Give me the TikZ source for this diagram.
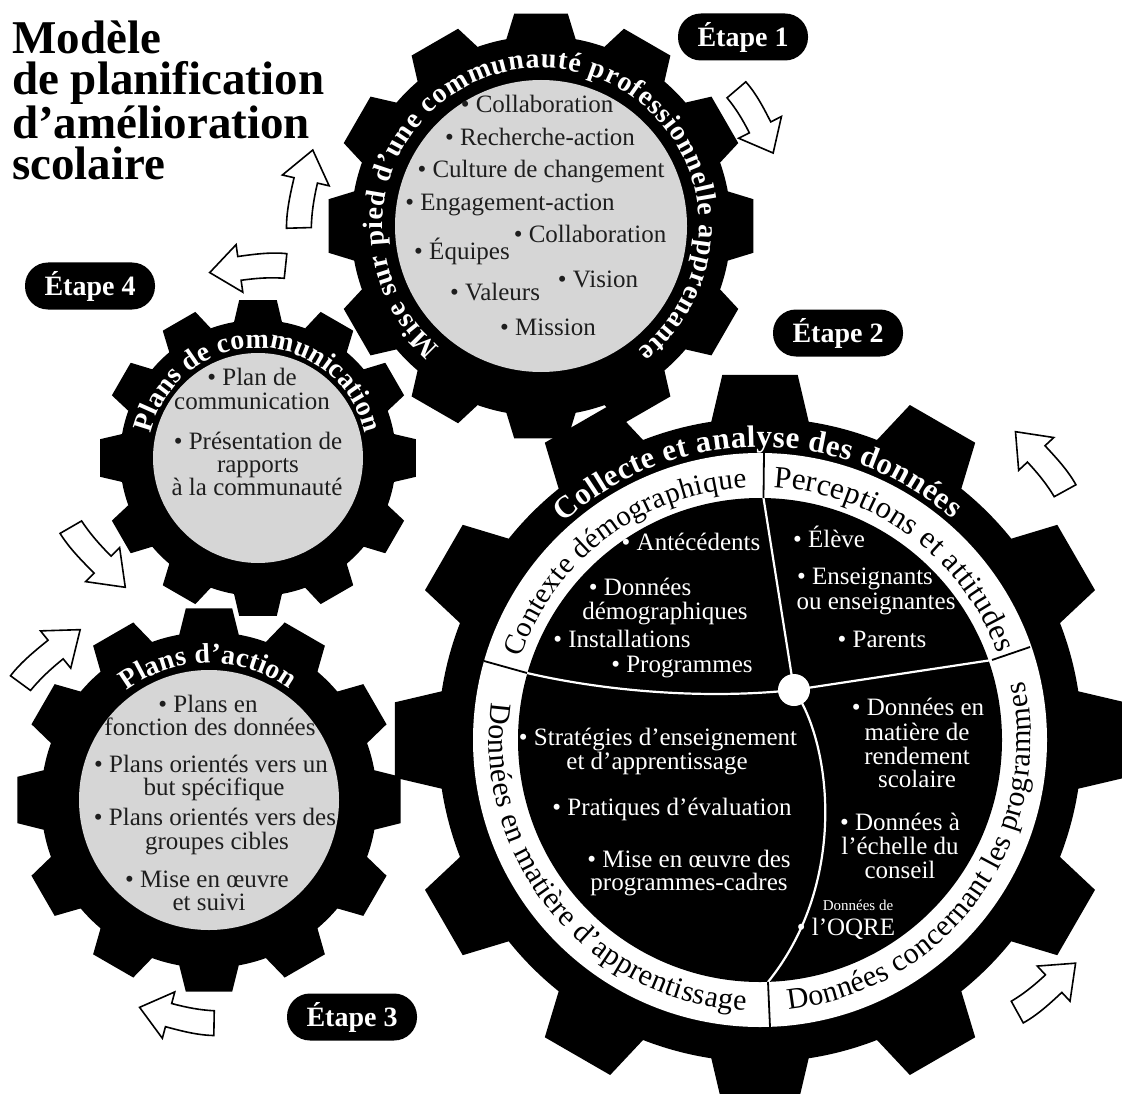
\documentclass[tikz,border=0pt]{standalone}
\usepackage{fontspec}
\setmainfont{Liberation Serif}
\usetikzlibrary{decorations.text}
\definecolor{lgray}{RGB}{214,214,214}
\definecolor{ink}{RGB}{30,30,30}

\newcommand\drawgear[6]{%
  \begin{scope}[shift={(#1,#2)}]
    \fill[black] ({90-#5}:#3)
      \foreach \k in {0,...,11}{
        -- ({90+30*\k-#6}:#4) -- ({90+30*\k+#6}:#4) -- ({90+30*\k+#5}:#3)
        arc[start angle={90+30*\k+#5}, end angle={120+30*\k-#5}, radius=#3]
      } -- cycle;
  \end{scope}}

\newcommand\arclabel[7]{%
  \path[decorate, decoration={text along path, text align={fit to path}, text color=#6, text={#7}}]
    (#1,#2) ++({#4}:#3) arc[start angle=#4, end angle=#5, radius=#3];}

\newcommand\barrow[5]{%
  \begin{scope}[shift={(#1,#2)}, rotate=#3, xscale=#4/76, yscale=#5]
    \draw[blockarrow] (3,-16) -- (-3,8) .. controls (13,12) and (30,12) .. (46,12)
      -- (46,24) -- (76,0) -- (46,-24) -- (46,-12)
      .. controls (30,-12) and (17,-13) .. (3,-16) -- cycle;
  \end{scope}}

\begin{document}
\begin{tikzpicture}[x=1pt,y=1pt,
  gtext/.style={text=ink, font=\fontsize{25}{25}\selectfont, inner sep=0pt, anchor=mid},
  wtext/.style={text=white, font=\fontsize{25}{25}\selectfont, inner sep=0pt, anchor=mid},
  etape/.style={fill=black, text=white, rounded corners=23pt, minimum width=130pt,
    minimum height=47pt, inner sep=0pt, font=\bfseries\fontsize{28}{28}\selectfont},
  blockarrow/.style={draw=black, fill=white, line width=1.6pt, line join=miter},
  title/.style={font=\bfseries\fontsize{47}{41}\selectfont, align=left, inner sep=0pt, anchor=north west}
]
\useasboundingbox (0,0) rectangle (1122,-1094);
\fill[white] (0,0) rectangle (1122,-1094);

% gear silhouettes
\drawgear{760}{-740}{322}{367}{8.7}{5.9}
\drawgear{541}{-226}{190}{214}{10.5}{7.2}
\drawgear{258}{-458}{138}{159}{10}{6.8}
\drawgear{209}{-800}{168}{193}{10.2}{6.9}

% interiors
\fill[lgray] (541,-226) circle[radius=146];
\fill[lgray] (258,-458) circle[radius=105];
\fill[lgray] (209,-800) circle[radius=130];
\fill[white] (760,-740) circle[radius=287];
\fill[black] (760,-740) circle[radius=242];

% dividers of the big gear
\coordinate (hub) at (794,-690);
\coordinate (dTi) at (763.5,-498); \coordinate (dTo) at (764,-453);
\coordinate (dRi) at (992,-660);   \coordinate (dRo) at (1030,-647);
\coordinate (dLi) at (527,-673);   \coordinate (dLo) at (484,-661);
\coordinate (dBi) at (768,-982);   \coordinate (dBo) at (770,-1027);
\draw[white, line width=2.2pt] (hub) -- (dTi);
\draw[white, line width=2.2pt] (hub) -- (dRi);
\draw[white, line width=2.2pt] (hub) .. controls (700,-700) and (600,-690) .. (dLi);
\draw[white, line width=2.2pt] (hub) .. controls (830,-740) and (850,-880) .. (dBi);
\draw[black, line width=1.8pt] (dTi) -- (dTo);
\draw[black, line width=1.8pt] (dRi) -- (dRo);
\draw[black, line width=1.8pt] (dLi) -- (dLo);
\draw[black, line width=1.8pt] (dBi) -- (dBo);
\fill[white] (hub) circle[radius=16];

% texts along the gears
\arclabel{541}{-226}{158}{230}{-52}{white}{|\bfseries\fontsize{28}{28}\selectfont|Mise sur pied d'une communauté professionnelle apprenante}
\arclabel{258}{-458}{110}{167}{13}{white}{|\bfseries\fontsize{28}{28}\selectfont|Plans de communication}
\arclabel{209}{-800}{137}{127}{54}{white}{|\bfseries\fontsize{28}{28}\selectfont|Plans d'action}
\arclabel{760}{-740}{293}{132}{49}{white}{|\bfseries\fontsize{31}{31}\selectfont|Collecte et analyse des données}
\arclabel{760}{-740}{253}{161}{93}{black}{|\fontsize{29}{29}\selectfont|Contexte démographique}
\arclabel{760}{-740}{253}{87}{20}{black}{|\fontsize{31}{31}\selectfont|Perceptions et attitudes}
\arclabel{760}{-740}{271}{172}{267}{black}{|\fontsize{30}{30}\selectfont|Données en matière d'apprentissage}
\arclabel{760}{-740}{271}{276}{372.5}{black}{|\fontsize{30}{30}\selectfont|Données concernant les programmes}

% top gear items
\foreach \x/\y/\t [count=\i] in {
  537/110/• Collaboration, 540/143/• Recherche-action, 541/175/• Culture de changement,
  510/208/• Engagement-action, 590/240/• Collaboration, 462/257/• Équipes,
  598/285/• Vision, 495/298/• Valeurs, 548/333/• Mission}
  \node[gtext] (ta\i) at (\x,-\y) {\t};

% communication gear items
\foreach \x/\y/\t [count=\i] in {
  252/383/• Plan de, 252/407/communication, 258/447/• Présentation de,
  258/470/rapports, 257/493/à la communauté}
  \node[gtext] (tc\i) at (\x,-\y) {\t};

% action gear items
\foreach \x/\y/\t [count=\i] in {
  208/710/• Plans en, 210/733/fonction des données, 211/770/• Plans orientés vers un,
  214/793/but spécifique, 215/823/• Plans orientés vers des, 217/847/groupes cibles,
  207/885/• Mise en œuvre, 209/908/et suivi}
  \node[gtext] (tp\i) at (\x,-\y) {\t};

% big gear items
\foreach \x/\y/\t [count=\i] in {
  691/548/• Antécédents, 640/593/• Données, 665/617/démographiques,
  622/645/• Installations, 682/670/• Programmes,
  829/545/• Élève, 865/582/• Enseignants, 876/607/ou enseignantes, 882/645/• Parents,
  918/713/• Données en, 917/738/matière de, 917/762/rendement, 917/785/scolaire,
  900/828/• Données à, 900/852/l'échelle du, 900/876/conseil, 846/933/• l'OQRE,
  658/743/• Stratégies d'enseignement, 657/767/et d'apprentissage,
  672/813/• Pratiques d'évaluation, 689/865/• Mise en œuvre des, 689/888/programmes-cadres}
  \node[wtext] (tb\i) at (\x,-\y) {\t};
\node[wtext, font=\fontsize{15}{15}\selectfont] (tbsmall) at (858,-908) {Données de};

% steps
\node[etape] (e1) at (743,-37) {Étape 1};
\node[etape] (e2) at (838,-333) {Étape 2};
\node[etape] (e3) at (352,-1017) {Étape 3};
\node[etape] (e4) at (90,-286) {Étape 4};

% title
\node[title] (title) at (12,-21) {Modèle\\de planification\\d'amélioration\\scolaire};

% rotation arrows
\barrow{740}{-88}{-63}{73}{1}
\barrow{295}{-227}{77}{79}{1}
\barrow{285}{-262}{188}{76}{-1}
\barrow{68}{-530}{-45}{81}{-1}
\barrow{18}{-680}{39}{80}{1}
\barrow{213}{-1027}{165}{76}{1}
\barrow{1020}{-1015}{43}{76}{-1}
\barrow{1068}{-488}{133}{77}{-1}
\end{tikzpicture}
\end{document}
